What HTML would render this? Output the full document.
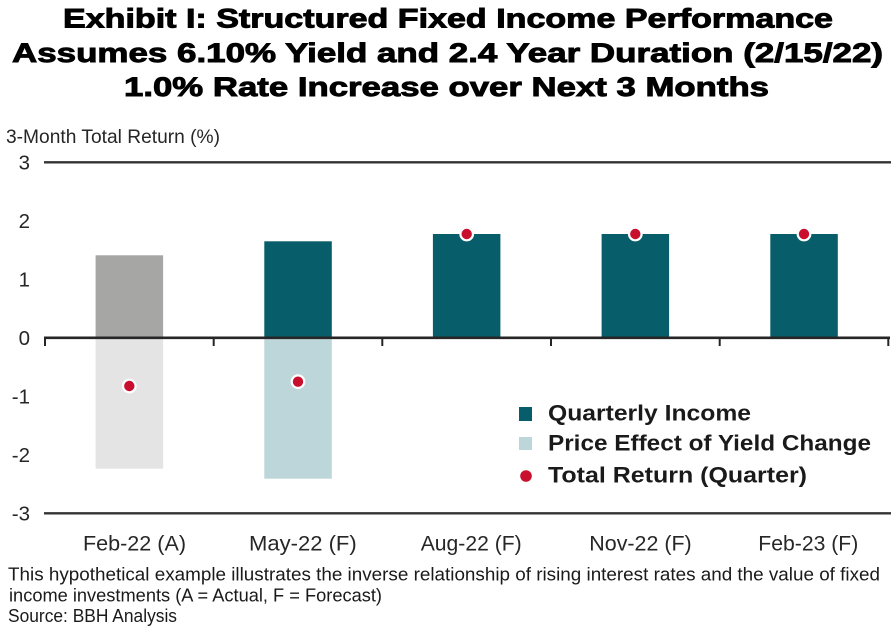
<!DOCTYPE html>
<html>
<head>
<meta charset="utf-8">
<style>
  html, body { margin: 0; padding: 0; background: #ffffff; }
  body { width: 894px; height: 631px; overflow: hidden; }
  svg { display: block; }
  .t { font-family: "Liberation Sans", Arial, sans-serif; font-weight: bold; fill: #000; stroke: #000; stroke-width: 0.9; }
  .n { font-family: "Liberation Sans", Arial, sans-serif; fill: #262626; }
  .lg { font-family: "Liberation Sans", Arial, sans-serif; font-weight: bold; fill: #1a1a1a; }
</style>
</head>
<body>
<svg width="894" height="631" viewBox="0 0 894 631" xmlns="http://www.w3.org/2000/svg">
  <rect x="0" y="0" width="894" height="631" fill="#ffffff"/>

  <!-- Title -->
  <text class="t" x="63" y="27.5" font-size="27" textLength="770" lengthAdjust="spacingAndGlyphs">Exhibit I: Structured Fixed Income Performance</text>
  <text class="t" x="12" y="62" font-size="27" textLength="871" lengthAdjust="spacingAndGlyphs">Assumes 6.10% Yield and 2.4 Year Duration (2/15/22)</text>
  <text class="t" x="124" y="96" font-size="27" textLength="645" lengthAdjust="spacingAndGlyphs">1.0% Rate Increase over Next 3 Months</text>

  <!-- Axis title -->
  <text class="n" x="6" y="143" font-size="19.5" textLength="214" lengthAdjust="spacingAndGlyphs">3-Month Total Return (%)</text>

  <!-- Y labels -->
  <g class="n" font-size="20.5" text-anchor="end">
    <text x="30" y="169.3">3</text>
    <text x="30" y="227.8">2</text>
    <text x="30" y="286.3">1</text>
    <text x="30" y="344.8">0</text>
    <text x="30" y="403.3">-1</text>
    <text x="30" y="461.8">-2</text>
    <text x="30" y="520.3">-3</text>
  </g>

  <!-- Bars -->
  <!-- Feb-22 -->
  <rect x="95.6" y="255.3" width="67.5" height="82.5" fill="#A6A6A5"/>
  <rect x="95.6" y="337.8" width="67.5" height="130.9" fill="#E4E4E4"/>
  <!-- May-22 -->
  <rect x="264.3" y="241.3" width="67.5" height="96.5" fill="#075E6A"/>
  <rect x="264.3" y="337.8" width="67.5" height="140.9" fill="#BDD6D9"/>
  <!-- Aug-22 -->
  <rect x="432.9" y="234" width="67.5" height="103.8" fill="#075E6A"/>
  <!-- Nov-22 -->
  <rect x="601.6" y="234" width="67.5" height="103.8" fill="#075E6A"/>
  <!-- Feb-23 -->
  <rect x="770.3" y="234" width="67.5" height="103.8" fill="#075E6A"/>

  <!-- Gridlines -->
  <line x1="44" y1="162.3" x2="891" y2="162.3" stroke="#333333" stroke-width="2.3"/>
  <line x1="44" y1="513.3" x2="891" y2="513.3" stroke="#333333" stroke-width="2.3"/>

  <!-- Zero axis -->
  <line x1="44" y1="337.8" x2="890" y2="337.8" stroke="#262626" stroke-width="2.7"/>
  <g stroke="#262626" stroke-width="2">
    <line x1="45" y1="337.8" x2="45" y2="346"/>
    <line x1="213.7" y1="337.8" x2="213.7" y2="346"/>
    <line x1="382.3" y1="337.8" x2="382.3" y2="346"/>
    <line x1="551" y1="337.8" x2="551" y2="346"/>
    <line x1="719.7" y1="337.8" x2="719.7" y2="346"/>
    <line x1="888.3" y1="337.8" x2="888.3" y2="346"/>
  </g>

  <!-- Total return dots -->
  <g fill="#C8102E" stroke="#ffffff" stroke-width="2.2">
    <circle cx="129.3" cy="386" r="6.3"/>
    <circle cx="298" cy="381.7" r="6.3"/>
    <circle cx="466.7" cy="234" r="6.3"/>
    <circle cx="635.3" cy="234" r="6.3"/>
    <circle cx="804" cy="234" r="6.3"/>
  </g>

  <!-- Legend -->
  <rect x="519" y="407" width="13" height="14" fill="#075E6A"/>
  <rect x="519" y="437" width="13" height="13" fill="#BDD6D9"/>
  <circle cx="526" cy="476" r="5.8" fill="#C8102E"/>
  <text class="lg" x="548" y="420.7" font-size="22.5" textLength="203" lengthAdjust="spacingAndGlyphs">Quarterly Income</text>
  <text class="lg" x="548" y="450.7" font-size="22.5" textLength="323" lengthAdjust="spacingAndGlyphs">Price Effect of Yield Change</text>
  <text class="lg" x="548" y="482.7" font-size="22.5" textLength="259" lengthAdjust="spacingAndGlyphs">Total Return (Quarter)</text>

  <!-- X labels -->
  <g class="n" font-size="21.5">
    <text x="83" y="550.7" textLength="103" lengthAdjust="spacingAndGlyphs">Feb-22 (A)</text>
    <text x="249" y="550.7" textLength="107.7" lengthAdjust="spacingAndGlyphs">May-22 (F)</text>
    <text x="420.7" y="550.7" textLength="101" lengthAdjust="spacingAndGlyphs">Aug-22 (F)</text>
    <text x="589.3" y="550.7" textLength="102.4" lengthAdjust="spacingAndGlyphs">Nov-22 (F)</text>
    <text x="758.3" y="550.7" textLength="100" lengthAdjust="spacingAndGlyphs">Feb-23 (F)</text>
  </g>

  <!-- Footnotes -->
  <g class="n" font-size="18" style="fill:#1a1a1a">
    <text x="8" y="580.5" textLength="872" lengthAdjust="spacingAndGlyphs">This hypothetical example illustrates the inverse relationship of rising interest rates and the value of fixed</text>
    <text x="9" y="601.5" textLength="373" lengthAdjust="spacingAndGlyphs">income investments (A = Actual, F = Forecast)</text>
    <text x="8" y="622" textLength="169" lengthAdjust="spacingAndGlyphs">Source: BBH Analysis</text>
  </g>
</svg>
</body>
</html>
